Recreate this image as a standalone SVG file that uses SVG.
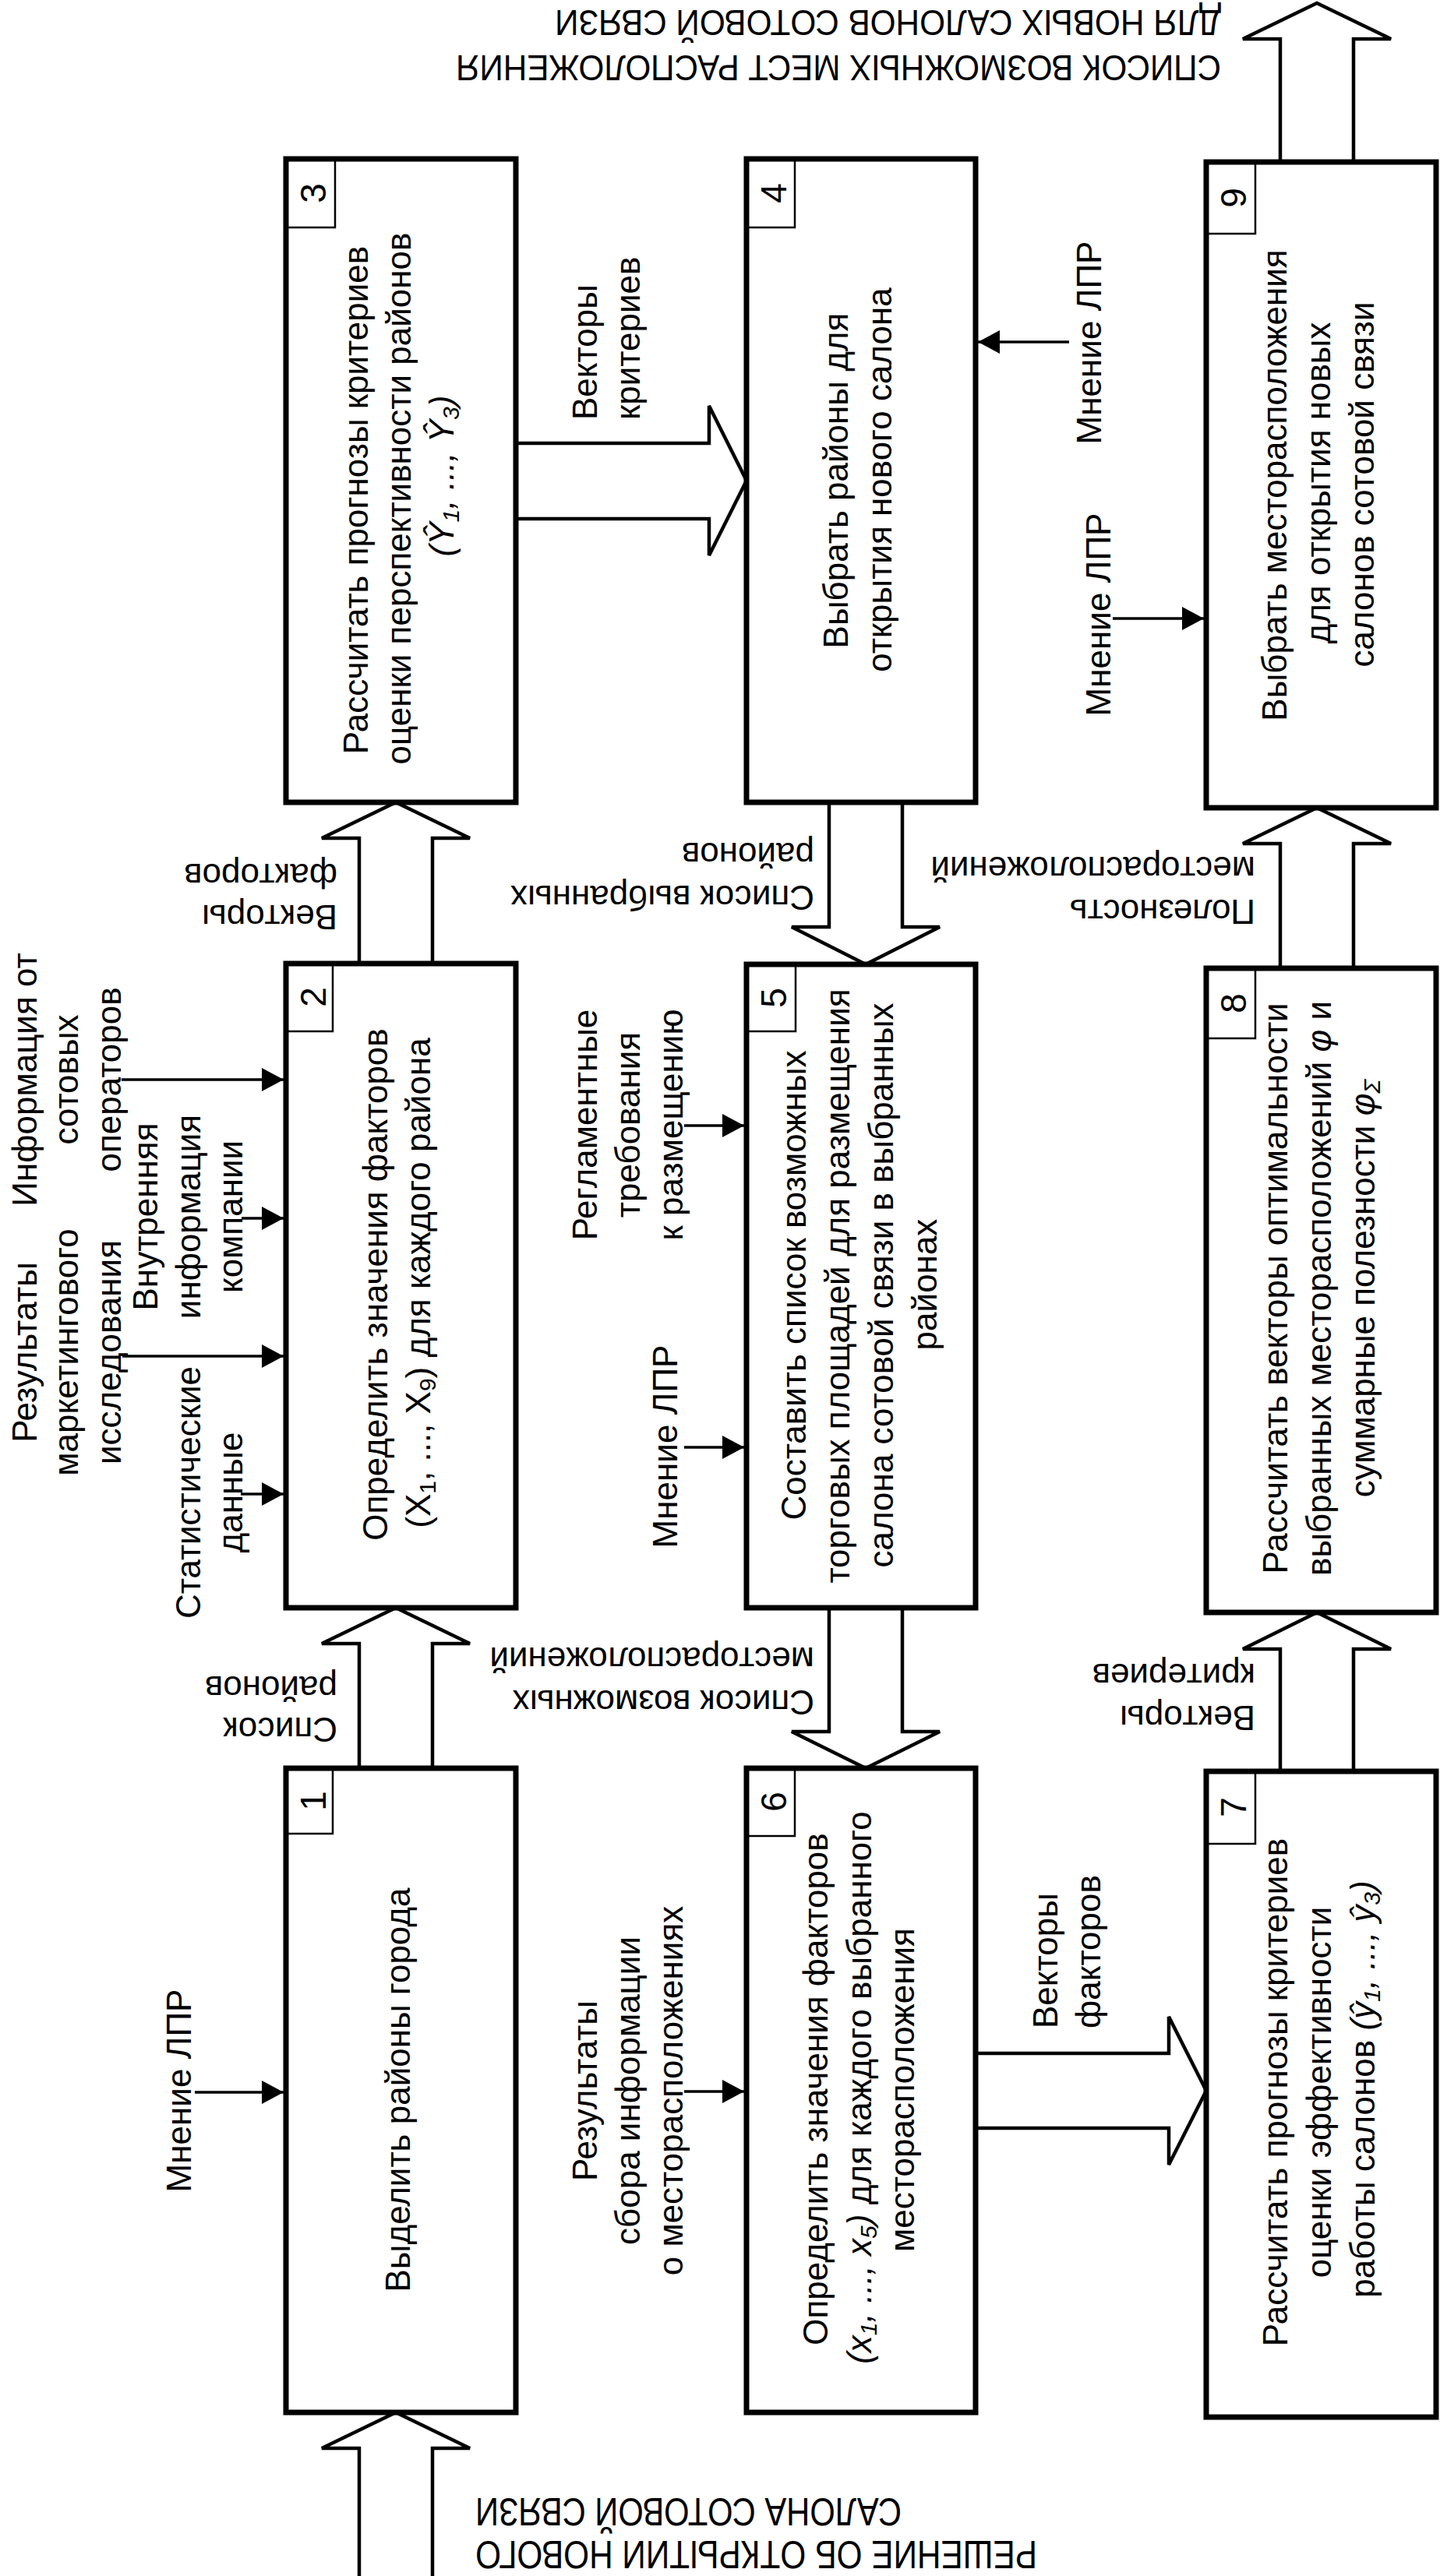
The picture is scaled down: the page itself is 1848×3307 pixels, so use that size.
<svg xmlns="http://www.w3.org/2000/svg" width="1848" height="3307" viewBox="0 0 1848 3307">
<style>
.t{font-family:"Liberation Sans",Arial,sans-serif;font-size:44px;fill:#000}
.m{text-anchor:middle}
.n{font-size:46px;text-anchor:middle}
.cap{font-size:47px}
.i{font-style:italic}
.box{fill:#fff;stroke:#000;stroke-width:7}
.num{fill:none;stroke:#000;stroke-width:2.5}
.fat{fill:#fff;stroke:#000;stroke-width:4.5;stroke-linejoin:miter}
.thin{fill:none;stroke:#000;stroke-width:3.5;marker-end:url(#ah)}
</style>
<defs>
<marker id="ah" markerUnits="userSpaceOnUse" markerWidth="28" markerHeight="30" refX="28" refY="15" orient="auto">
<path d="M0,0 L28,15 L0,30 Z" fill="#000"/>
</marker>
</defs>
<rect width="1848" height="3307" fill="#fff"/>

<g id="connectors">
<polyline class="fat" points="461,3310 461,3143 413,3143 508,3097 603,3143 555,3143 555,3310"/>
<polyline class="fat" points="461,2270 461,2110 413,2110 508,2064 603,2110 555,2110 555,2270"/>
<polyline class="fat" points="461,1237 461,1076 413,1076 508,1030 603,1076 555,1076 555,1237"/>
<polyline class="fat" points="662,569 910,569 910,521 958,617 910,713 910,666 662,666"/>
<polyline class="fat" points="1064,1030 1064,1190 1016,1190 1111,1238 1206,1190 1158,1190 1158,1030"/>
<polyline class="fat" points="1064,2064 1064,2223 1016,2223 1111,2270 1206,2223 1158,2223 1158,2064"/>
<polyline class="fat" points="1252,2636 1500,2636 1500,2589 1548,2684 1500,2779 1500,2732 1252,2732"/>
<polyline class="fat" points="1643,2274 1643,2117 1595,2117 1690,2070 1785,2117 1737,2117 1737,2274"/>
<polyline class="fat" points="1643,1243 1643,1083 1595,1083 1690,1037 1785,1083 1737,1083 1737,1243"/>
<polyline class="fat" points="1643,208 1643,50 1595,50 1690,4 1785,50 1737,50 1737,208"/>
<line class="thin" x1="156" y1="1386" x2="364" y2="1386"/>
<line class="thin" x1="310" y1="1564" x2="364" y2="1564"/>
<line class="thin" x1="157" y1="1741" x2="364" y2="1741"/>
<line class="thin" x1="309" y1="1918" x2="364" y2="1918"/>
<line class="thin" x1="250" y1="2686" x2="364" y2="2686"/>
<line class="thin" x1="878" y1="1445" x2="955" y2="1445"/>
<line class="thin" x1="878" y1="1858" x2="955" y2="1858"/>
<line class="thin" x1="878" y1="2685" x2="955" y2="2685"/>
<line class="thin" x1="1372" y1="439" x2="1255" y2="439"/>
<line class="thin" x1="1428" y1="794" x2="1545" y2="794"/>
</g>

<g id="labels" class="t">
<text class="cap" x="1567" y="71" transform="rotate(180 1567 71)" textLength="982" lengthAdjust="spacingAndGlyphs">СПИСОК ВОЗМОЖНЫХ МЕСТ РАСПОЛОЖЕНИЯ</text>
<text class="cap" x="1567" y="13" transform="rotate(180 1567 13)" textLength="855" lengthAdjust="spacingAndGlyphs">ДЛЯ НОВЫХ САЛОНОВ СОТОВОЙ СВЯЗИ</text>
<text style="font-size:50px" x="1331" y="3262" transform="rotate(180 1331 3262)" textLength="721" lengthAdjust="spacingAndGlyphs">РЕШЕНИЕ ОБ ОТКРЫТИИ НОВОГО</text>
<text style="font-size:50px" x="1157" y="3207" transform="rotate(180 1157 3207)" textLength="547" lengthAdjust="spacingAndGlyphs">САЛОНА СОТОВОЙ СВЯЗИ</text>

<text x="433" y="1162" transform="rotate(180 433 1162)">Векторы</text>
<text x="433" y="1109" transform="rotate(180 433 1109)">факторов</text>
<text x="433" y="2205" transform="rotate(180 433 2205)">Список</text>
<text x="433" y="2152" transform="rotate(180 433 2152)">районов</text>
<text x="1045" y="1137" transform="rotate(180 1045 1137)">Список выбранных</text>
<text x="1045" y="1082" transform="rotate(180 1045 1082)">районов</text>
<text x="1045" y="2170" transform="rotate(180 1045 2170)">Список возможных</text>
<text x="1045" y="2115" transform="rotate(180 1045 2115)">месторасположений</text>
<text x="1611" y="1155" transform="rotate(180 1611 1155)">Полезность</text>
<text x="1611" y="1100" transform="rotate(180 1611 1100)">месторасположений</text>
<text x="1611" y="2190" transform="rotate(180 1611 2190)">Векторы</text>
<text x="1611" y="2136" transform="rotate(180 1611 2136)">критериев</text>

<text x="766" y="539" transform="rotate(-90 766 539)">Векторы</text>
<text x="821" y="539" transform="rotate(-90 821 539)">критериев</text>
<text x="1357" y="2604" transform="rotate(-90 1357 2604)">Векторы</text>
<text x="1412" y="2604" transform="rotate(-90 1412 2604)">факторов</text>

<text class="m" x="1413" y="440" transform="rotate(-90 1413 440)">Мнение ЛПР</text>
<text class="m" x="1425" y="789" transform="rotate(-90 1425 789)">Мнение ЛПР</text>
<text class="m" x="869" y="1857" transform="rotate(-90 869 1857)">Мнение ЛПР</text>
<text class="m" x="245" y="2684" transform="rotate(-90 245 2684)">Мнение ЛПР</text>

<text class="m" x="47" y="1386" transform="rotate(-90 47 1386)">Информация от</text>
<text class="m" x="100" y="1386" transform="rotate(-90 100 1386)">сотовых</text>
<text class="m" x="155" y="1386" transform="rotate(-90 155 1386)">операторов</text>
<text class="m" x="47" y="1736" transform="rotate(-90 47 1736)">Результаты</text>
<text class="m" x="100" y="1736" transform="rotate(-90 100 1736)">маркетингового</text>
<text class="m" x="155" y="1736" transform="rotate(-90 155 1736)">исследования</text>
<text class="m" x="202" y="1562" transform="rotate(-90 202 1562)">Внутренняя</text>
<text class="m" x="257" y="1562" transform="rotate(-90 257 1562)">информация</text>
<text class="m" x="311" y="1562" transform="rotate(-90 311 1562)">компании</text>
<text class="m" x="257" y="1916" transform="rotate(-90 257 1916)">Статистические</text>
<text class="m" x="311" y="1916" transform="rotate(-90 311 1916)">данные</text>

<text class="m" x="766" y="1444" transform="rotate(-90 766 1444)">Регламентные</text>
<text class="m" x="821" y="1444" transform="rotate(-90 821 1444)">требования</text>
<text class="m" x="876" y="1444" transform="rotate(-90 876 1444)">к размещению</text>
<text class="m" x="766" y="2684" transform="rotate(-90 766 2684)">Результаты</text>
<text class="m" x="821" y="2684" transform="rotate(-90 821 2684)">сбора информации</text>
<text class="m" x="876" y="2684" transform="rotate(-90 876 2684)">о месторасположениях</text>
</g>

<g id="n1" class="t">
<rect class="box" x="367" y="2270" width="295" height="827"/>
<rect class="num" x="367" y="2270" width="60" height="84"/>
<text class="n" x="418" y="2312" transform="rotate(-90 418 2312)">1</text>
<text class="m" x="526" y="2683" transform="rotate(-90 526 2683)">Выделить районы города</text>
</g>

<g id="n2" class="t">
<rect class="box" x="367" y="1237" width="295" height="827"/>
<rect class="num" x="367" y="1237" width="60" height="87"/>
<text class="n" x="418" y="1280" transform="rotate(-90 418 1280)">2</text>
<text class="m" x="497" y="1649" transform="rotate(-90 497 1649)">Определить значения факторов</text>
<text class="m" x="552" y="1647" transform="rotate(-90 552 1647)">(X<tspan dy="7" font-size="30">1</tspan><tspan dy="-7">, ..., X</tspan><tspan dy="7" font-size="30">9</tspan><tspan dy="-7">) для каждого района</tspan></text>
</g>

<g id="n3" class="t">
<rect class="box" x="367" y="204" width="295" height="826"/>
<rect class="num" x="367" y="204" width="63" height="88"/>
<text class="n" x="418" y="248" transform="rotate(-90 418 248)">3</text>
<text class="m" x="472" y="642" transform="rotate(-90 472 642)">Рассчитать прогнозы критериев</text>
<text class="m" x="527" y="640" transform="rotate(-90 527 640)">оценки перспективности районов</text>
<text class="m i" x="582" y="611" transform="rotate(-90 582 611)">(Ŷ<tspan dy="7" font-size="30">1</tspan><tspan dy="-7">, ..., Ŷ</tspan><tspan dy="7" font-size="30">3</tspan><tspan dy="-7">)</tspan></text>
</g>

<g id="n4" class="t">
<rect class="box" x="958" y="204" width="294" height="826"/>
<rect class="num" x="958" y="204" width="62" height="88"/>
<text class="n" x="1009" y="248" transform="rotate(-90 1009 248)">4</text>
<text class="m" x="1088" y="617" transform="rotate(-90 1088 617)">Выбрать районы для</text>
<text class="m" x="1144" y="616" transform="rotate(-90 1144 616)">открытия нового салона</text>
</g>

<g id="n5" class="t">
<rect class="box" x="958" y="1238" width="294" height="826"/>
<rect class="num" x="958" y="1238" width="63" height="86"/>
<text class="n" x="1009" y="1281" transform="rotate(-90 1009 1281)">5</text>
<text class="m" x="1034" y="1650" transform="rotate(-90 1034 1650)">Составить список возможных</text>
<text class="m" x="1090" y="1651" transform="rotate(-90 1090 1651)">торговых площадей для размещения</text>
<text class="m" x="1146" y="1650" transform="rotate(-90 1146 1650)">салона сотовой связи в выбранных</text>
<text class="m" x="1202" y="1649" transform="rotate(-90 1202 1649)">районах</text>
</g>

<g id="n6" class="t">
<rect class="box" x="958" y="2270" width="294" height="827"/>
<rect class="num" x="958" y="2270" width="62" height="87"/>
<text class="n" x="1009" y="2313" transform="rotate(-90 1009 2313)">6</text>
<text class="m" x="1062" y="2682" transform="rotate(-90 1062 2682)">Определить значения факторов</text>
<text class="m" x="1118" y="2680" transform="rotate(-90 1118 2680)"><tspan class="i">(x</tspan><tspan class="i" dy="7" font-size="30">1</tspan><tspan class="i" dy="-7">, ..., x</tspan><tspan class="i" dy="7" font-size="30">5</tspan><tspan class="i" dy="-7">)</tspan> для каждого выбранного</text>
<text class="m" x="1173" y="2683" transform="rotate(-90 1173 2683)">месторасположения</text>
</g>

<g id="n7" class="t">
<rect class="box" x="1548" y="2274" width="295" height="829"/>
<rect class="num" x="1548" y="2274" width="63" height="93"/>
<text class="n" x="1599" y="2320" transform="rotate(-90 1599 2320)">7</text>
<text class="m" x="1652" y="2686" transform="rotate(-90 1652 2686)">Рассчитать прогнозы критериев</text>
<text class="m" x="1708" y="2686" transform="rotate(-90 1708 2686)">оценки эффективности</text>
<text class="m" x="1764" y="2682" transform="rotate(-90 1764 2682)">работы салонов <tspan class="i">(ŷ</tspan><tspan class="i" dy="7" font-size="30">1</tspan><tspan class="i" dy="-7">, ..., ŷ</tspan><tspan class="i" dy="7" font-size="30">3</tspan><tspan class="i" dy="-7">)</tspan></text>
</g>

<g id="n8" class="t">
<rect class="box" x="1548" y="1243" width="295" height="827"/>
<rect class="num" x="1548" y="1243" width="63" height="90"/>
<text class="n" x="1599" y="1288" transform="rotate(-90 1599 1288)">8</text>
<text class="m" x="1652" y="1654" transform="rotate(-90 1652 1654)">Рассчитать векторы оптимальности</text>
<text class="m" x="1708" y="1654" transform="rotate(-90 1708 1654)">выбранных месторасположений <tspan class="i">φ</tspan> и</text>
<text class="m" x="1764" y="1654" transform="rotate(-90 1764 1654)">суммарные полезности <tspan class="i">φ</tspan><tspan class="i" dy="7" font-size="30">Σ</tspan></text>
</g>

<g id="n9" class="t">
<rect class="box" x="1548" y="208" width="295" height="829"/>
<rect class="num" x="1548" y="208" width="63" height="92"/>
<text class="n" x="1599" y="254" transform="rotate(-90 1599 254)">9</text>
<text class="m" x="1651" y="623" transform="rotate(-90 1651 623)">Выбрать месторасположения</text>
<text class="m" x="1707" y="620" transform="rotate(-90 1707 620)">для открытия новых</text>
<text class="m" x="1763" y="622" transform="rotate(-90 1763 622)">салонов сотовой связи</text>
</g>
</svg>
